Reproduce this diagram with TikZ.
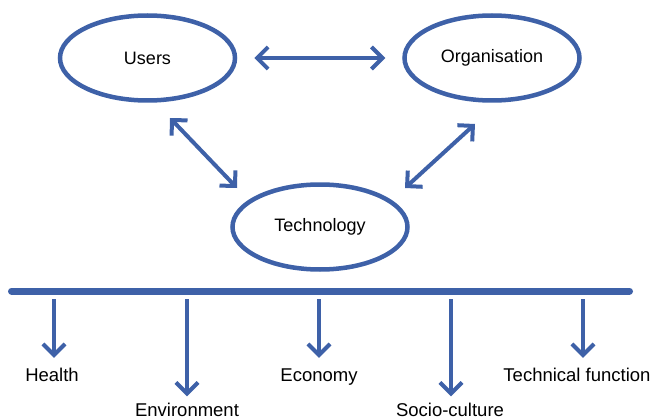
\documentclass[tikz,border=0pt]{standalone}
\usepackage{fontspec}
\setmainfont{Liberation Sans}
\usetikzlibrary{shapes.geometric,arrows.meta}
\definecolor{dblue}{RGB}{62,97,168}
\begin{document}
\begin{tikzpicture}[x=1pt,y=-1pt,
  oval/.style={ellipse,draw=dblue,line width=4.5pt,minimum width=175pt,minimum height=85pt,inner sep=0pt,font=\fontsize{18}{21}\selectfont},
  link/.style={draw=dblue,line width=4pt,{Straight Barb[length=11pt,width=22pt]}-{Straight Barb[length=11pt,width=22pt]}},
  downarrow/.style={draw=dblue,line width=4pt,-{Straight Barb[length=11pt,width=22pt]},shorten <=8pt,shorten >=10pt},
  lbl/.style={anchor=base,inner sep=0pt,text height=13pt,font=\fontsize{18.5}{21}\selectfont}
]
\useasboundingbox (0,0) rectangle (654,420);
% main ellipses
\node[oval] (users) at (147.5,58) {\raisebox{-2pt}{Users}};
\node[oval] (org) at (492,58) {\raisebox{-2pt}{Organisation}};
\node[oval] (tech) at (320,227) {Technology};
% connectors
\draw[link,shorten <=17pt,shorten >=17pt] (users) -- (org);
\coordinate (ut1) at (170,118);
\coordinate (ut2) at (237,188);
\coordinate (ot1) at (475,124);
\coordinate (ot2) at (405,188);
\draw[link] (ut1) -- (ut2);
\draw[link] (ot1) -- (ot2);
% bar
\coordinate (barL) at (11.5,291);
\coordinate (barR) at (629.5,291);
\draw[dblue,line width=7pt,line cap=round] (barL) -- (barR);
% labels
\node[lbl] (health) at (52,381) {Health};
\node[lbl] (env) at (187,416.5) {Environment};
\node[lbl] (econ) at (319,381) {Economy};
\node[lbl] (socio) at (450,416.5) {Socio-culture};
\node[lbl] (techf) at (577,381) {Technical function};
% arrow starts on bar
\coordinate (h0) at (54,291);
\coordinate (e0) at (187,291);
\coordinate (c0) at (319,291);
\coordinate (s0) at (451,291);
\coordinate (t0) at (583,291);
\draw[downarrow] (h0) -- (h0 |- health.north);
\draw[downarrow,shorten >=7pt] (e0) -- (e0 |- env.north);
\draw[downarrow] (c0) -- (c0 |- econ.north);
\draw[downarrow,shorten >=7pt] (s0) -- (s0 |- socio.north);
\draw[downarrow] (t0) -- (t0 |- techf.north);
\end{tikzpicture}
\end{document}
